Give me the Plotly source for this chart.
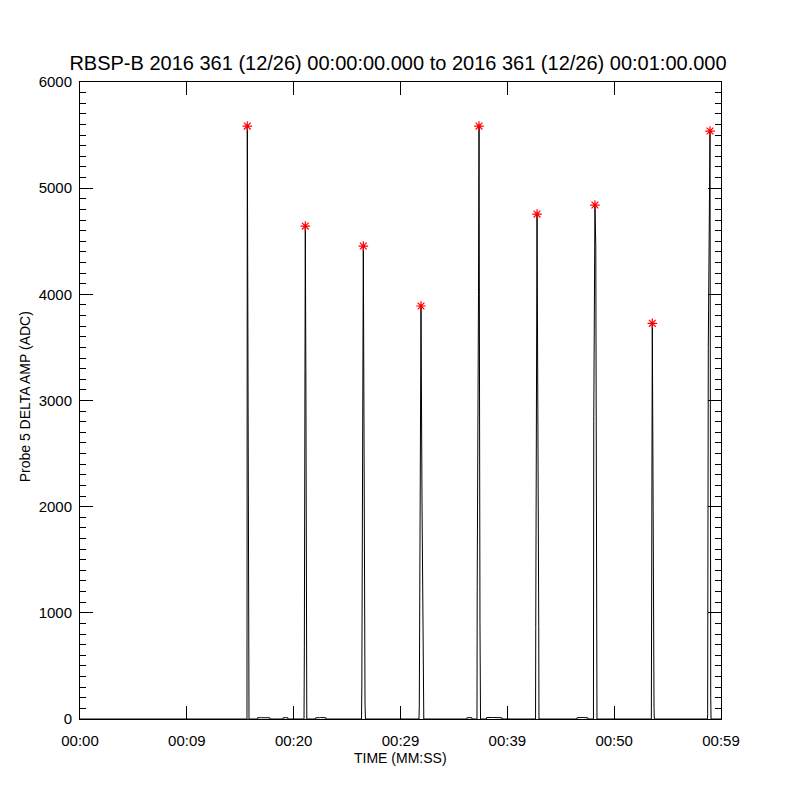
import plotly.graph_objects as go

# ---- data (seconds after 00:00:00, ADC amplitude) ----
time_s = [
    0.0, 15.63, 15.66, 15.69, 15.74, 15.82,
    16.60, 16.62, 17.00, 17.30, 17.76, 17.78,
    19.00, 19.02, 19.45, 19.47,
    20.97, 21.00, 21.09, 21.14, 21.18, 21.23,
    22.05, 22.07, 22.40, 22.50, 23.01, 23.03,
    26.35, 26.38, 26.52, 26.56, 26.61, 26.68, 26.72,
    31.73, 31.76, 31.92, 32.01, 32.13, 32.18,
    36.20, 36.22, 36.68, 36.70,
    37.16, 37.18, 37.30, 37.35, 37.44, 37.49,
    38.05, 38.07, 38.60, 39.00, 39.48, 39.50,
    42.64, 42.66, 42.73, 42.78, 42.94, 42.96,
    46.50, 46.52, 47.00, 47.53, 47.55,
    48.06, 48.09, 48.20, 48.28, 48.36, 48.39,
    53.48, 53.51, 53.57, 53.73, 53.76,
    58.74, 58.75, 58.81, 58.88, 58.97, 59.04, 59.07,
    60.0,
]
amp_adc = [
    0, 0, 5585, 3850, 1070, 0,
    0, 12, 12, 14, 12, 0,
    0, 12, 12, 0,
    0, 670, 4643, 3300, 1000, 0,
    0, 12, 12, 14, 12, 0,
    0, 310, 4455, 2530, 2250, 140, 0,
    0, 130, 3890, 2100, 160, 0,
    0, 12, 12, 0,
    0, 1250, 4000, 5585, 900, 0,
    0, 14, 14, 14, 12, 0,
    0, 860, 3150, 4756, 870, 0,
    0, 12, 14, 12, 0,
    0, 2800, 4841, 4450, 100, 0,
    0, 2050, 3727, 100, 0,
    0, 50, 3500, 4150, 5538, 200, 0,
    0,
]

tick_vals = [0, 10, 20, 30, 40, 50, 60]
tick_text = ["00:00", "00:09", "00:20", "00:29", "00:39", "00:50", "00:59"]

title_text = "RBSP-B 2016 361 (12/26) 00:00:00.000 to 2016 361 (12/26) 00:01:00.000"

# peaks: local maxima of the series above a threshold
peak_t, peak_v = [], []
for i in range(1, len(amp_adc) - 1):
    if amp_adc[i] > 1000 and amp_adc[i] >= amp_adc[i - 1] and amp_adc[i] >= amp_adc[i + 1]:
        peak_t.append(time_s[i])
        peak_v.append(amp_adc[i])

FONT = "Liberation Sans"
OFF = 8  # page body margin

fig = go.Figure()
fig.add_trace(go.Scatter(
    x=time_s, y=amp_adc, mode="lines",
    line=dict(color="black", width=1), showlegend=False, hoverinfo="skip",
))
fig.add_trace(go.Scatter(
    x=peak_t, y=peak_v, mode="markers",
    marker=dict(symbol="asterisk", size=8, color="red",
                line=dict(color="red", width=1.2)),
    showlegend=False,
))
# invisible traces anchoring the top and right frame axes
fig.add_trace(go.Scatter(
    x=[time_s[0]], y=[amp_adc[0]], xaxis="x2", yaxis="y2", mode="markers",
    marker=dict(opacity=0), showlegend=False, hoverinfo="skip",
))

axis_common = dict(
    ticks="inside", ticklen=13, tickwidth=1, tickcolor="black",
    showline=True, linecolor="black", linewidth=1,
    showgrid=False, zeroline=False,
)
minor_y = dict(dtick=100, ticks="inside", ticklen=6, tickcolor="black", tickwidth=1)

fig.update_layout(
    width=800, height=800,
    paper_bgcolor="white", plot_bgcolor="white",
    margin=dict(l=80 - OFF, r=800 - 721 + OFF, t=82 - OFF, b=800 - 719 + OFF),
    font=dict(family=FONT, color="black"),
    title=dict(text=title_text, x=(398 - OFF) / 800, xanchor="center",
               y=1 - (63 - OFF) / 800, yref="container", yanchor="middle",
               font=dict(size=20, family=FONT, color="black")),
    xaxis=dict(
        range=[0, 60], tickvals=tick_vals, ticktext=tick_text,
        tickfont=dict(size=15, family=FONT), ticklabelstandoff=8,
        **axis_common,
    ),
    xaxis2=dict(
        range=[0, 60], tickvals=tick_vals, overlaying="x", side="top",
        anchor="y", matches="x", showticklabels=False,
        **axis_common,
    ),
    yaxis=dict(
        range=[0, 6000], dtick=1000, tick0=0, minor=minor_y,
        tickfont=dict(size=15, family=FONT), ticklabelstandoff=4,
        **axis_common,
    ),
    yaxis2=dict(
        range=[0, 6000], dtick=1000, tick0=0, overlaying="y", side="right",
        anchor="x", matches="y", showticklabels=False, minor=minor_y,
        **axis_common,
    ),
    annotations=[
        dict(text="TIME (MM:SS)", xref="paper", yref="paper", x=0.5, y=(719 - 758) / 637,
             xanchor="center", yanchor="middle", showarrow=False,
             font=dict(size=14, family=FONT)),
        dict(text="Probe 5 DELTA AMP (ADC)", xref="paper", yref="paper",
             x=(25 - 80) / 641, y=0.505, textangle=-90,
             xanchor="center", yanchor="middle", showarrow=False,
             font=dict(size=14, family=FONT)),
    ],
)

fig.write_html("out.html")
